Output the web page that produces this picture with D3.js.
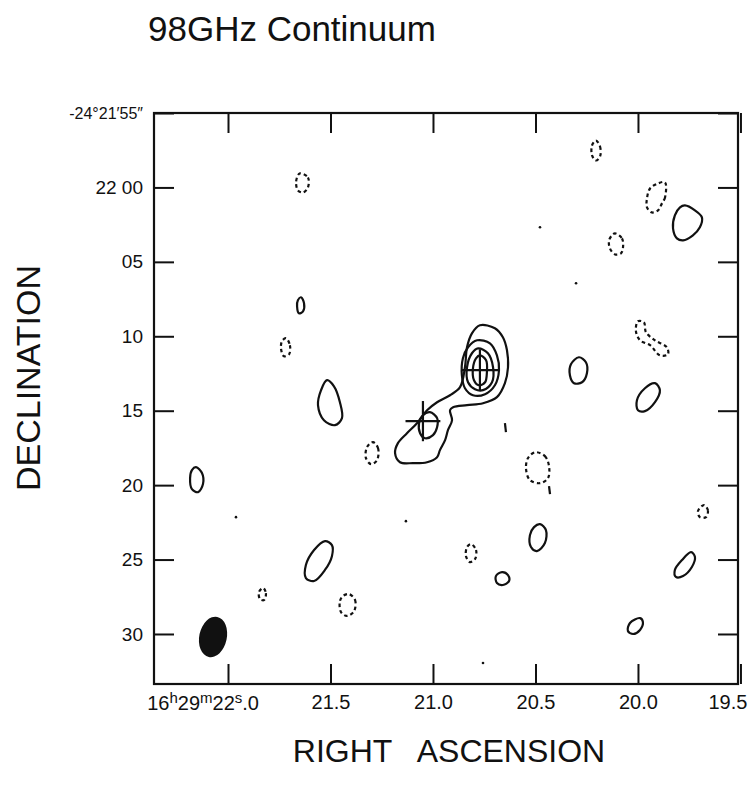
<!DOCTYPE html>
<html>
<head>
<meta charset="utf-8">
<script src="https://cdn.jsdelivr.net/npm/d3@7"></script>
<style>
  body { margin: 0; background: #fff; }
  text { font-family: "Liberation Sans", Arial, sans-serif; fill: #111; }
</style>
</head>
<body>
<svg id="chart"></svg>
<script>
// RA in seconds of time after 16h29m, Dec in arcsec past -24°22'00"
const raTicks = [22.0, 21.5, 21.0, 20.5, 20.0, 19.5]
const raTickLabels = ["", "21.5", "21.0", "20.5", "20.0", "19.5"]
const decTicks = [-5, 0, 5, 10, 15, 20, 25, 30]
const decTickLabels = ["-24°21′55″", "22 00", "05", "10", "15", "20", "25", "30"]

// map continuum source, lowest level first
const mainContours = [
  [[20.771,9.26],[20.698,9.46],[20.659,10.07],[20.639,10.94],[20.634,12.08],[20.649,13.15],
   [20.688,14.09],[20.756,14.50],[20.834,14.63],[20.902,14.77],[20.917,14.97],[20.907,15.64],
   [20.927,16.31],[20.941,16.98],[20.966,17.65],[20.980,18.12],[21.029,18.46],[21.098,18.52],
   [21.161,18.46],[21.185,17.85],[21.171,17.18],[21.127,16.51],[21.078,15.84],[21.029,14.97],
   [20.980,14.43],[20.917,13.96],[20.868,13.42],[20.844,12.08],[20.834,10.74],[20.810,9.80]],
  [[20.785,10.27],[20.722,10.47],[20.688,11.28],[20.678,12.28],[20.698,13.29],[20.746,13.89],
   [20.805,13.96],[20.844,13.49],[20.859,12.62],[20.854,11.48],[20.829,10.74]],
  [[20.780,10.81],[20.732,11.14],[20.707,12.08],[20.712,13.09],[20.756,13.62],[20.795,13.56],
   [20.829,13.09],[20.834,12.08],[20.810,11.14]],
  [[20.771,11.28],[20.741,11.61],[20.737,12.42],[20.746,13.09],[20.776,13.29],[20.800,12.95],
   [20.805,12.15],[20.790,11.48]],
  [[21.015,15.10],[20.980,15.50],[20.980,16.11],[21.000,16.64],[21.039,16.85],[21.063,16.51],
   [21.068,15.84],[21.049,15.30]]
]

// isolated positive contours (solid)
const posContours = [
  [[21.517,12.95],[21.483,13.36],[21.454,14.43],[21.444,15.50],[21.478,15.97],[21.532,15.64],[21.561,14.63],[21.546,13.62]],
  [[22.156,18.79],[22.127,19.19],[22.122,19.93],[22.146,20.47],[22.176,20.27],[22.185,19.53],[22.176,18.99]],
  [[21.527,23.76],[21.493,24.03],[21.493,24.77],[21.527,25.70],[21.580,26.44],[21.620,26.24],[21.620,25.37],[21.580,24.36]],
  [[20.478,22.62],[20.449,23.02],[20.454,23.89],[20.493,24.43],[20.522,24.16],[20.527,23.36],[20.507,22.82]],
  [[20.288,11.41],[20.254,11.74],[20.249,12.48],[20.273,13.09],[20.312,13.15],[20.332,12.62],[20.327,11.88]],
  [[19.917,13.15],[19.893,13.62],[19.917,14.43],[19.966,15.03],[20.000,14.97],[20.005,14.30],[19.966,13.49]],
  [[19.771,1.21],[19.722,1.54],[19.688,2.01],[19.698,2.68],[19.732,3.22],[19.780,3.56],[19.810,3.42],[19.829,2.75],[19.820,1.88],[19.795,1.34]],
  [[19.741,24.50],[19.722,24.83],[19.737,25.50],[19.780,26.11],[19.815,26.17],[19.820,25.70],[19.785,25.03]],
  [[19.990,28.93],[19.976,29.19],[19.990,29.73],[20.024,30.00],[20.049,29.80],[20.039,29.26]],
  [[20.663,25.84],[20.634,26.04],[20.629,26.44],[20.659,26.71],[20.688,26.58],[20.693,26.11]],
  [[21.644,7.38],[21.629,7.79],[21.634,8.32],[21.654,8.46],[21.663,7.99],[21.659,7.58]]
]

// negative contours (dashed)
const negContours = [
  [[19.868,-0.34],[19.868,0.67],[19.883,1.07],[19.902,1.54],[19.932,1.68],[19.956,1.34],[19.956,0.74],[19.941,0.07],[19.902,-0.27]],
  [[20.112,3.09],[20.078,3.42],[20.073,4.03],[20.083,4.43],[20.112,4.50],[20.137,4.09],[20.141,3.56],[20.127,3.22]],
  [[21.649,-0.94],[21.610,-0.67],[21.610,0.00],[21.634,0.34],[21.659,0.20],[21.668,-0.34],[21.659,-0.81]],
  [[20.205,-3.15],[20.185,-2.75],[20.185,-2.08],[20.205,-1.81],[20.224,-2.15],[20.224,-2.82]],
  [[21.717,10.13],[21.698,10.60],[21.702,11.21],[21.727,11.34],[21.741,10.87],[21.737,10.34]],
  [[21.293,17.11],[21.268,17.52],[21.273,18.32],[21.302,18.59],[21.327,18.19],[21.322,17.45]],
  [[20.502,17.79],[20.454,18.05],[20.434,18.72],[20.439,19.53],[20.478,19.87],[20.527,19.66],[20.546,18.93],[20.537,18.19]],
  [[20.815,23.96],[20.790,24.36],[20.795,24.97],[20.820,25.17],[20.839,24.77],[20.834,24.16]],
  [[21.410,27.32],[21.380,27.72],[21.385,28.46],[21.420,28.79],[21.449,28.52],[21.454,27.79],[21.439,27.45]],
  [[21.829,26.91],[21.815,27.25],[21.824,27.72],[21.844,27.65],[21.849,27.18]],
  [[20.000,8.99],[19.971,9.06],[19.961,9.73],[19.917,10.27],[19.859,10.74],[19.854,11.21],[19.893,11.28],[19.941,10.60],[19.990,10.27],[20.010,9.66]],
  [[19.678,21.34],[19.659,21.68],[19.668,22.15],[19.698,22.15],[19.707,21.74]]
]

// tiny specks and stubs
const specks = [[20.478,2.68],[20.302,6.44],[21.132,22.42],[21.961,22.15],[20.756,31.95]]
const stubs = [
  [[20.649,15.84],[20.644,16.44]],
  [[20.434,20.07],[20.429,20.60]]
]

// positions with error bars: ra, dec, half-width (s), half-height (")
const crosses = [
  {ra: 20.771, dec: 12.28, dra: 0.09, ddec: 1.4},
  {ra: 21.049, dec: 15.70, dra: 0.085, ddec: 1.35}
]

// synthesized beam (arcsec, degrees)
const beam = {ra: 22.073, dec: 30.2, major: 2.75, minor: 1.85, pa: 12}

let dimensions = {
  width: 752, height: 793,
  margin: { top: 113, right: 14, bottom: 109, left: 154 },
}
dimensions.boundedWidth = dimensions.width - dimensions.margin.left - dimensions.margin.right
dimensions.boundedHeight = dimensions.height - dimensions.margin.top - dimensions.margin.bottom

const svg = d3.select("#chart")
  .attr("width", dimensions.width)
  .attr("height", dimensions.height)
  .style("background", "#fff")

const bounds = svg.append("g")
  .attr("transform", `translate(${dimensions.margin.left}, ${dimensions.margin.top})`)

const xScale = d3.scaleLinear()
  .domain([22.361, 19.512])
  .range([0, dimensions.boundedWidth])

const yScale = d3.scaleLinear()
  .domain([-5, 33.36])
  .range([0, dimensions.boundedHeight])

const pxPerArcsec = yScale(1) - yScale(0)

const contourLine = d3.line()
  .x(d => xScale(d[0]))
  .y(d => yScale(d[1]))
  .curve(d3.curveCatmullRomClosed.alpha(0.5))

const plainLine = d3.line()
  .x(d => xScale(d[0]))
  .y(d => yScale(d[1]))

bounds.append("g")
  .selectAll("path")
  .data(mainContours.concat(posContours))
  .join("path")
    .attr("d", contourLine)
    .attr("fill", "none")
    .attr("stroke", "#111")
    .attr("stroke-width", 2.2)

bounds.append("g")
  .selectAll("path")
  .data(negContours)
  .join("path")
    .attr("d", contourLine)
    .attr("fill", "none")
    .attr("stroke", "#111")
    .attr("stroke-width", 2.2)
    .attr("stroke-dasharray", "3.5 3")

bounds.append("g")
  .selectAll("path")
  .data(stubs)
  .join("path")
    .attr("d", plainLine)
    .attr("stroke", "#111")
    .attr("stroke-width", 2.2)

bounds.append("g")
  .selectAll("circle")
  .data(specks)
  .join("circle")
    .attr("cx", d => xScale(d[0]))
    .attr("cy", d => yScale(d[1]))
    .attr("r", 1.3)
    .attr("fill", "#111")

// crosses
const crossG = bounds.append("g")
  .attr("stroke", "#111")
  .attr("stroke-width", 2.2)
crossG.selectAll("line.h")
  .data(crosses)
  .join("line")
    .attr("class", "h")
    .attr("x1", d => xScale(d.ra + d.dra))
    .attr("x2", d => xScale(d.ra - d.dra))
    .attr("y1", d => yScale(d.dec))
    .attr("y2", d => yScale(d.dec))
crossG.selectAll("line.v")
  .data(crosses)
  .join("line")
    .attr("class", "v")
    .attr("x1", d => xScale(d.ra))
    .attr("x2", d => xScale(d.ra))
    .attr("y1", d => yScale(d.dec - d.ddec))
    .attr("y2", d => yScale(d.dec + d.ddec))

// beam
bounds.append("ellipse")
  .attr("cx", xScale(beam.ra))
  .attr("cy", yScale(beam.dec))
  .attr("rx", beam.minor / 2 * pxPerArcsec)
  .attr("ry", beam.major / 2 * pxPerArcsec)
  .attr("transform", `rotate(${beam.pa}, ${xScale(beam.ra)}, ${yScale(beam.dec)})`)
  .attr("fill", "#111")

// axes, ticks pointing inward
const fontFamily = '"Liberation Sans", Arial, sans-serif'

const yAxisGenerator = d3.axisLeft(yScale)
  .tickValues(decTicks)
  .tickFormat((d, i) => decTickLabels[i])
  .tickSizeInner(-20).tickSizeOuter(0).tickPadding(11)
const yAxis = bounds.append("g").call(yAxisGenerator)
  .attr("font-size", 19).attr("font-family", fontFamily)
yAxis.selectAll(".tick text").filter(d => d === -5).attr("font-size", 16)

const xAxisGenerator = d3.axisBottom(xScale)
  .tickValues(raTicks)
  .tickFormat((d, i) => raTickLabels[i])
  .tickSizeInner(-20).tickSizeOuter(0).tickPadding(11)
const xAxis = bounds.append("g").call(xAxisGenerator)
  .attr("transform", `translate(0, ${dimensions.boundedHeight})`)
  .attr("font-size", 20).attr("font-family", fontFamily)
// last label sits against the window edge
xAxis.selectAll(".tick text").filter(d => d === 19.5).attr("dx", -13)

const topAxis = bounds.append("g")
  .call(d3.axisTop(xScale).tickValues(raTicks).tickFormat("").tickSizeInner(-20).tickSizeOuter(0))
const rightAxis = bounds.append("g")
  .attr("transform", `translate(${dimensions.boundedWidth}, 0)`)
  .call(d3.axisRight(yScale).tickValues(decTicks).tickFormat("").tickSizeInner(-20).tickSizeOuter(0))

;[yAxis, xAxis, topAxis, rightAxis].forEach(a => {
  a.select(".domain").remove()
  a.selectAll(".tick line").attr("stroke", "#111").attr("stroke-width", 2)
  a.selectAll(".tick text").attr("fill", "#111")
})

// first RA label with superscripts
const firstLabel = bounds.append("text")
  .attr("x", xScale(raTicks[0]) + 31)
  .attr("y", dimensions.boundedHeight + 26)
  .attr("text-anchor", "end")
  .attr("font-size", 20)
;[["16", false], ["h", true], ["29", false], ["m", true], ["22", false], ["s", true], [".0", false]]
  .forEach(([t, sup], i, arr) => {
    const prevSup = i > 0 && arr[i - 1][1]
    firstLabel.append("tspan")
      .attr("font-size", sup ? 15 : 20)
      .attr("dy", sup ? -7 : (prevSup ? 7 : 0))
      .text(t)
  })

// frame
bounds.append("rect")
  .attr("width", dimensions.boundedWidth)
  .attr("height", dimensions.boundedHeight)
  .attr("fill", "none")
  .attr("stroke", "#111")
  .attr("stroke-width", 2.2)

// titles
svg.append("text")
  .attr("x", 148).attr("y", 41)
  .attr("font-size", 35)
  .text("98GHz Continuum")

svg.append("text")
  .attr("transform", `translate(40, 378) rotate(-90)`)
  .attr("text-anchor", "middle")
  .attr("font-size", 34)
  .text("DECLINATION")

svg.append("text")
  .attr("x", 449)
  .attr("y", 762)
  .attr("text-anchor", "middle")
  .attr("font-size", 32)
  .style("white-space", "pre")
  .text("RIGHT   ASCENSION")
</script>
</body>
</html>
